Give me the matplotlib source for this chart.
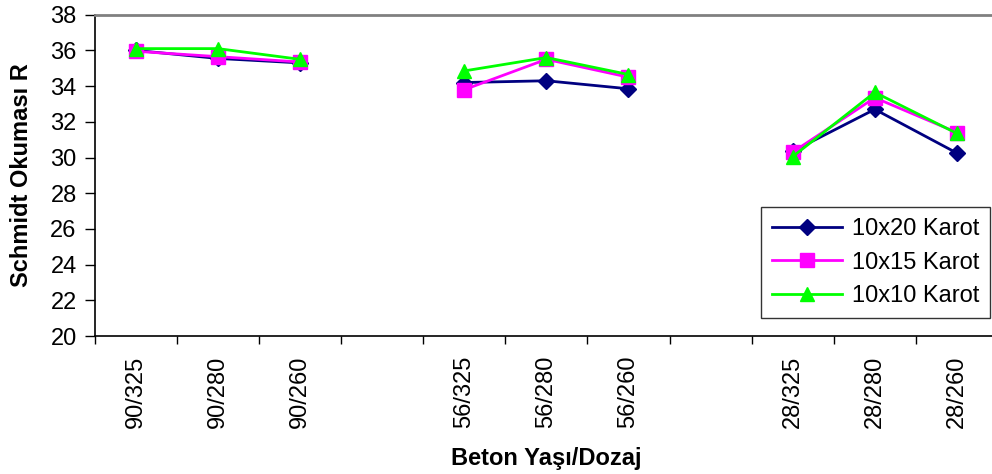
import numpy as np
import matplotlib.pyplot as plt

plt.rcParams['font.family'] = ['Liberation Sans', 'DejaVu Sans']

# categories (blank slots separate the age groups)
categories = ['90/325', '90/280', '90/260', '', '56/325', '56/280', '56/260', '', '28/325', '28/280', '28/260']
s_10x20 = [36.0, 35.55, 35.3, np.nan, 34.2, 34.3, 33.85, np.nan, 30.35, 32.7, 30.25]
s_10x15 = [35.95, 35.65, 35.35, np.nan, 33.8, 35.5, 34.5, np.nan, 30.3, 33.35, 31.4]
s_10x10 = [36.1, 36.1, 35.5, np.nan, 34.85, 35.6, 34.65, np.nan, 30.05, 33.65, 31.35]
labels = ['10x20 Karot', '10x15 Karot', '10x10 Karot']

x = np.arange(len(categories))

fig = plt.figure(figsize=(9.92, 4.74), dpi=100)
ax = fig.add_axes([0.0955, 0.291, 0.9105, 0.678])

ax.plot(x, s_10x20, color='#000080', marker='D', markersize=8, lw=2, label=labels[0], clip_on=False)
ax.plot(x, s_10x15, color='#FF00FF', marker='s', markersize=10, lw=2, label=labels[1], clip_on=False)
ax.plot(x, s_10x10, color='#00FF00', marker='^', markersize=10, lw=2, label=labels[2], clip_on=False)

ax.set_xlim(-0.5, len(categories) - 0.5)
ax.set_ylim(20, 38)
ax.set_yticks(np.arange(20, 39, 2))
ax.tick_params(axis='y', labelsize=17, direction='out', length=7, width=1, pad=6)

# labels at category centres, ticks between categories
ax.set_xticks(x)
ax.set_xticklabels(categories, rotation=90, fontsize=17)
ax.tick_params(axis='x', which='major', length=0, pad=14)
ax.set_xticks(np.arange(-0.5, len(categories)), minor=True)
ax.tick_params(axis='x', which='minor', length=6, width=1, direction='out')

ax.spines['top'].set_color('#808080')
ax.spines['top'].set_linewidth(2)
ax.spines['right'].set_visible(False)
ax.spines['left'].set_linewidth(1.2)
ax.spines['bottom'].set_linewidth(1.2)

ax.set_ylabel('Schmidt Okuması R', fontsize=17, fontweight='bold')
ax.yaxis.set_label_coords(-0.068, 0.5)
ax.set_xlabel('Beton Yaşı/Dozaj', fontsize=17, fontweight='bold', labelpad=14)

leg = ax.legend(loc='lower right', bbox_to_anchor=(0.991, 0.056), fontsize=17, frameon=True,
                fancybox=False, edgecolor='black', handlelength=3.0, labelspacing=0.5,
                borderpad=0.45, handletextpad=0.4, borderaxespad=0)
leg.get_frame().set_linewidth(1)

fig.savefig('out.png', dpi=100)
